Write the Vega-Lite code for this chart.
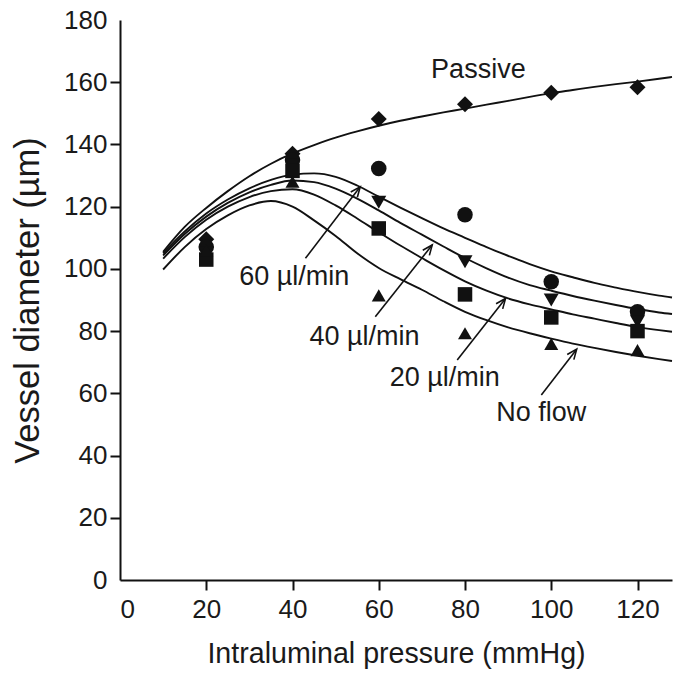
{
  "$schema": "https://vega.github.io/schema/vega-lite/v6.json",
  "autosize": "none",
  "width": 552,
  "height": 560,
  "padding": {"left": 120, "top": 20, "right": 1, "bottom": 95},
  "background": "white",
  "config": {
    "view": {"stroke": null},
    "font": "Liberation Sans",
    "axis": {
      "grid": false,
      "domainColor": "#111",
      "domainWidth": 2,
      "tickColor": "#111",
      "tickWidth": 2,
      "tickSize": 10,
      "labelFont": "Liberation Sans",
      "labelFontSize": 26,
      "labelColor": "#1a1a1a",
      "titleFont": "Liberation Sans",
      "titleFontWeight": "normal",
      "titleColor": "#1a1a1a"
    }
  },
  "datasets": {
    "curves": [
      {"curve": "Passive", "pressure": 10, "diameter": 105.5},
      {"curve": "Passive", "pressure": 15, "diameter": 113.5},
      {"curve": "Passive", "pressure": 20, "diameter": 119.6},
      {"curve": "Passive", "pressure": 25, "diameter": 125},
      {"curve": "Passive", "pressure": 30, "diameter": 129.8},
      {"curve": "Passive", "pressure": 35, "diameter": 133.8},
      {"curve": "Passive", "pressure": 40, "diameter": 137.1},
      {"curve": "Passive", "pressure": 45, "diameter": 139.8},
      {"curve": "Passive", "pressure": 50, "diameter": 142.2},
      {"curve": "Passive", "pressure": 55, "diameter": 144.2},
      {"curve": "Passive", "pressure": 60, "diameter": 146},
      {"curve": "Passive", "pressure": 65, "diameter": 147.6},
      {"curve": "Passive", "pressure": 70, "diameter": 149},
      {"curve": "Passive", "pressure": 75, "diameter": 150.3},
      {"curve": "Passive", "pressure": 80, "diameter": 151.5},
      {"curve": "Passive", "pressure": 85, "diameter": 152.8},
      {"curve": "Passive", "pressure": 90, "diameter": 154},
      {"curve": "Passive", "pressure": 95, "diameter": 155.3},
      {"curve": "Passive", "pressure": 100, "diameter": 156.5},
      {"curve": "Passive", "pressure": 105, "diameter": 157.5},
      {"curve": "Passive", "pressure": 110, "diameter": 158.5},
      {"curve": "Passive", "pressure": 115, "diameter": 159.4},
      {"curve": "Passive", "pressure": 120, "diameter": 160.2},
      {"curve": "Passive", "pressure": 125, "diameter": 161.1},
      {"curve": "Passive", "pressure": 128, "diameter": 161.7},
      {"curve": "60", "pressure": 10, "diameter": 105},
      {"curve": "60", "pressure": 15, "diameter": 112},
      {"curve": "60", "pressure": 20, "diameter": 117.8},
      {"curve": "60", "pressure": 25, "diameter": 122.3},
      {"curve": "60", "pressure": 30, "diameter": 125.9},
      {"curve": "60", "pressure": 35, "diameter": 128.6},
      {"curve": "60", "pressure": 40, "diameter": 130.3},
      {"curve": "60", "pressure": 45, "diameter": 130.7},
      {"curve": "60", "pressure": 50, "diameter": 129.6},
      {"curve": "60", "pressure": 55, "diameter": 126.8},
      {"curve": "60", "pressure": 60, "diameter": 123.2},
      {"curve": "60", "pressure": 65, "diameter": 119.7},
      {"curve": "60", "pressure": 70, "diameter": 116.3},
      {"curve": "60", "pressure": 75, "diameter": 113},
      {"curve": "60", "pressure": 80, "diameter": 110},
      {"curve": "60", "pressure": 85, "diameter": 107},
      {"curve": "60", "pressure": 90, "diameter": 104.2},
      {"curve": "60", "pressure": 95, "diameter": 101.5},
      {"curve": "60", "pressure": 100, "diameter": 99.2},
      {"curve": "60", "pressure": 105, "diameter": 97.3},
      {"curve": "60", "pressure": 110, "diameter": 95.5},
      {"curve": "60", "pressure": 115, "diameter": 94},
      {"curve": "60", "pressure": 120, "diameter": 92.6},
      {"curve": "60", "pressure": 125, "diameter": 91.4},
      {"curve": "60", "pressure": 128, "diameter": 90.8},
      {"curve": "40", "pressure": 10, "diameter": 104.3},
      {"curve": "40", "pressure": 15, "diameter": 111.2},
      {"curve": "40", "pressure": 20, "diameter": 116.8},
      {"curve": "40", "pressure": 25, "diameter": 121.2},
      {"curve": "40", "pressure": 30, "diameter": 124.6},
      {"curve": "40", "pressure": 35, "diameter": 127},
      {"curve": "40", "pressure": 40, "diameter": 128.4},
      {"curve": "40", "pressure": 45, "diameter": 127.9},
      {"curve": "40", "pressure": 50, "diameter": 125.8},
      {"curve": "40", "pressure": 55, "diameter": 122.6},
      {"curve": "40", "pressure": 60, "diameter": 118.8},
      {"curve": "40", "pressure": 65, "diameter": 114.8},
      {"curve": "40", "pressure": 70, "diameter": 111},
      {"curve": "40", "pressure": 75, "diameter": 107.2},
      {"curve": "40", "pressure": 80, "diameter": 103.5},
      {"curve": "40", "pressure": 85, "diameter": 100.2},
      {"curve": "40", "pressure": 90, "diameter": 97.2},
      {"curve": "40", "pressure": 95, "diameter": 94.8},
      {"curve": "40", "pressure": 100, "diameter": 93},
      {"curve": "40", "pressure": 105, "diameter": 91.3},
      {"curve": "40", "pressure": 110, "diameter": 89.8},
      {"curve": "40", "pressure": 115, "diameter": 88.4},
      {"curve": "40", "pressure": 120, "diameter": 87.1},
      {"curve": "40", "pressure": 125, "diameter": 86},
      {"curve": "40", "pressure": 128, "diameter": 85.5},
      {"curve": "20", "pressure": 10, "diameter": 103.3},
      {"curve": "20", "pressure": 15, "diameter": 110.2},
      {"curve": "20", "pressure": 20, "diameter": 115.8},
      {"curve": "20", "pressure": 25, "diameter": 120},
      {"curve": "20", "pressure": 30, "diameter": 123.1},
      {"curve": "20", "pressure": 35, "diameter": 125},
      {"curve": "20", "pressure": 40, "diameter": 125.6},
      {"curve": "20", "pressure": 45, "diameter": 123.9},
      {"curve": "20", "pressure": 50, "diameter": 120.4},
      {"curve": "20", "pressure": 55, "diameter": 116.2},
      {"curve": "20", "pressure": 60, "diameter": 111.8},
      {"curve": "20", "pressure": 65, "diameter": 107.5},
      {"curve": "20", "pressure": 70, "diameter": 103.5},
      {"curve": "20", "pressure": 75, "diameter": 99.6},
      {"curve": "20", "pressure": 80, "diameter": 96},
      {"curve": "20", "pressure": 85, "diameter": 93},
      {"curve": "20", "pressure": 90, "diameter": 90.5},
      {"curve": "20", "pressure": 95, "diameter": 88.6},
      {"curve": "20", "pressure": 100, "diameter": 87},
      {"curve": "20", "pressure": 105, "diameter": 85.4},
      {"curve": "20", "pressure": 110, "diameter": 84},
      {"curve": "20", "pressure": 115, "diameter": 82.6},
      {"curve": "20", "pressure": 120, "diameter": 81.3},
      {"curve": "20", "pressure": 125, "diameter": 80.3},
      {"curve": "20", "pressure": 128, "diameter": 79.8},
      {"curve": "0", "pressure": 10, "diameter": 99.8},
      {"curve": "0", "pressure": 15, "diameter": 107},
      {"curve": "0", "pressure": 20, "diameter": 112.8},
      {"curve": "0", "pressure": 25, "diameter": 117.2},
      {"curve": "0", "pressure": 30, "diameter": 120.4},
      {"curve": "0", "pressure": 35, "diameter": 121.8},
      {"curve": "0", "pressure": 40, "diameter": 120},
      {"curve": "0", "pressure": 45, "diameter": 115.6},
      {"curve": "0", "pressure": 50, "diameter": 110.6},
      {"curve": "0", "pressure": 55, "diameter": 105},
      {"curve": "0", "pressure": 60, "diameter": 100.3},
      {"curve": "0", "pressure": 65, "diameter": 96.7},
      {"curve": "0", "pressure": 70, "diameter": 93.3},
      {"curve": "0", "pressure": 75, "diameter": 89.6},
      {"curve": "0", "pressure": 80, "diameter": 86.2},
      {"curve": "0", "pressure": 85, "diameter": 83.5},
      {"curve": "0", "pressure": 90, "diameter": 81.2},
      {"curve": "0", "pressure": 95, "diameter": 79.3},
      {"curve": "0", "pressure": 100, "diameter": 77.6},
      {"curve": "0", "pressure": 105, "diameter": 76},
      {"curve": "0", "pressure": 110, "diameter": 74.6},
      {"curve": "0", "pressure": 115, "diameter": 73.3},
      {"curve": "0", "pressure": 120, "diameter": 72.1},
      {"curve": "0", "pressure": 125, "diameter": 71},
      {"curve": "0", "pressure": 128, "diameter": 70.4}
    ],
    "points": [
      {"series": "Passive", "pressure": 20, "diameter": 109.5},
      {"series": "Passive", "pressure": 40, "diameter": 137},
      {"series": "Passive", "pressure": 60, "diameter": 148.2},
      {"series": "Passive", "pressure": 80, "diameter": 152.9},
      {"series": "Passive", "pressure": 100, "diameter": 156.6},
      {"series": "Passive", "pressure": 120, "diameter": 158.4},
      {"series": "60", "pressure": 20, "diameter": 107},
      {"series": "60", "pressure": 40, "diameter": 135},
      {"series": "60", "pressure": 60, "diameter": 132.3},
      {"series": "60", "pressure": 80, "diameter": 117.4},
      {"series": "60", "pressure": 100, "diameter": 95.9},
      {"series": "60", "pressure": 120, "diameter": 86.2},
      {"series": "40", "pressure": 20, "diameter": 105},
      {"series": "40", "pressure": 40, "diameter": 133.5},
      {"series": "40", "pressure": 60, "diameter": 121.4},
      {"series": "40", "pressure": 80, "diameter": 102.3},
      {"series": "40", "pressure": 100, "diameter": 90},
      {"series": "40", "pressure": 120, "diameter": 83},
      {"series": "20", "pressure": 20, "diameter": 103},
      {"series": "20", "pressure": 40, "diameter": 131.5},
      {"series": "20", "pressure": 60, "diameter": 113},
      {"series": "20", "pressure": 80, "diameter": 91.8},
      {"series": "20", "pressure": 100, "diameter": 84.4},
      {"series": "20", "pressure": 120, "diameter": 80},
      {"series": "0", "pressure": 20, "diameter": 106},
      {"series": "0", "pressure": 40, "diameter": 128},
      {"series": "0", "pressure": 60, "diameter": 91.5},
      {"series": "0", "pressure": 80, "diameter": 79.3},
      {"series": "0", "pressure": 100, "diameter": 75.9},
      {"series": "0", "pressure": 120, "diameter": 73.9}
    ],
    "arrows": [
      {"label": "60 µl/min", "x1": 43, "y1": 103.4, "x2": 55.7, "y2": 126.4},
      {"label": "40 µl/min", "x1": 59.2, "y1": 84.6, "x2": 72.4, "y2": 107.7},
      {"label": "20 µl/min", "x1": 78.2, "y1": 70.7, "x2": 89.4, "y2": 90.5},
      {"label": "No flow", "x1": 97.7, "y1": 59.5, "x2": 105.9, "y2": 74.2}
    ],
    "labels": [
      {"text": "Passive", "x": 83.1, "y": 161.3},
      {"text": "60 µl/min", "x": 40.4, "y": 94.8},
      {"text": "40 µl/min", "x": 56.7, "y": 75.5},
      {"text": "20 µl/min", "x": 75.3, "y": 62.4},
      {"text": "No flow", "x": 97.7, "y": 51}
    ]
  },
  "layer": [
    {
      "data": {"name": "curves"},
      "mark": {"type": "line", "color": "#111", "strokeWidth": 1.9, "interpolate": "monotone"},
      "encoding": {
        "x": {
          "field": "pressure", "type": "quantitative",
          "scale": {"domain": [0, 128], "nice": false, "zero": false},
          "axis": {
            "title": "Intraluminal pressure (mmHg)",
            "titleFontSize": 28.6,
            "values": [0, 20, 40, 60, 80, 100, 120],
            "labelPadding": 6,
            "titlePadding": 17,
            "tickOpacity": {"condition": {"test": "datum.value === 0", "value": 0}, "value": 1}
          }
        },
        "y": {
          "field": "diameter", "type": "quantitative",
          "scale": {"domain": [0, 180], "nice": false},
          "axis": {
            "title": "Vessel diameter (µm)",
            "titleFontSize": 34.5,
            "values": [0, 20, 40, 60, 80, 100, 120, 140, 160, 180],
            "labelPadding": 3,
            "titlePadding": 18,
            "tickOpacity": {"condition": {"test": "datum.value === 0 || datum.value === 180", "value": 0}, "value": 1}
          }
        },
        "detail": {"field": "curve"}
      }
    },
    {
      "data": {"name": "points"},
      "mark": {"type": "point", "filled": true, "opacity": 1, "color": "#111"},
      "encoding": {
        "x": {"field": "pressure", "type": "quantitative"},
        "y": {"field": "diameter", "type": "quantitative"},
        "shape": {
          "field": "series", "type": "nominal",
          "scale": {"domain": ["Passive", "60", "40", "20", "0"], "range": ["diamond", "circle", "triangle-down", "square", "triangle-up"]},
          "legend": null
        },
        "size": {
          "field": "series", "type": "nominal",
          "scale": {"domain": ["Passive", "60", "40", "20", "0"], "range": [256, 196, 180, 132, 180]},
          "legend": null
        }
      }
    },
    {
      "data": {"name": "arrows"},
      "mark": {"type": "rule", "color": "#111", "strokeWidth": 1.6},
      "encoding": {
        "x": {"field": "x1", "type": "quantitative"},
        "y": {"field": "y1", "type": "quantitative"},
        "x2": {"field": "x2"},
        "y2": {"field": "y2"}
      }
    },
    {
      "data": {"name": "arrows"},
      "mark": {"type": "point", "shape": "M-0.42,1L0,0L0.42,1", "size": 400, "angle": 38, "filled": false, "fill": null, "stroke": "#111", "strokeWidth": 1.6, "opacity": 1},
      "encoding": {
        "x": {"field": "x2", "type": "quantitative"},
        "y": {"field": "y2", "type": "quantitative"}
      }
    },
    {
      "data": {"name": "labels"},
      "mark": {"type": "text", "font": "Liberation Sans", "fontSize": 27, "align": "center", "baseline": "alphabetic", "color": "#1a1a1a"},
      "encoding": {
        "x": {"field": "x", "type": "quantitative"},
        "y": {"field": "y", "type": "quantitative"},
        "text": {"field": "text"}
      }
    }
  ]
}
